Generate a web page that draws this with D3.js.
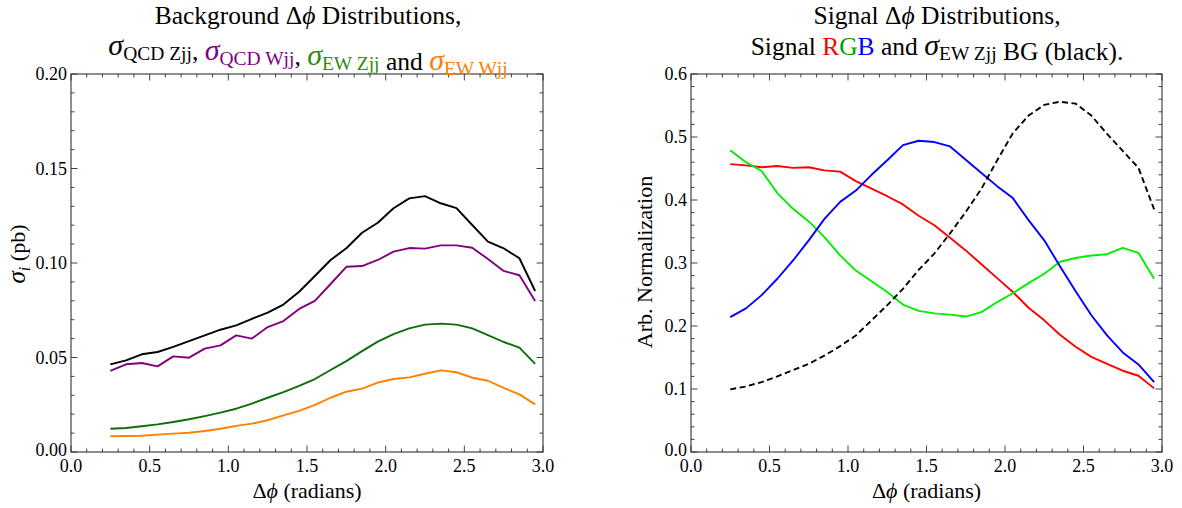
<!DOCTYPE html>
<html>
<head>
<meta charset="utf-8">
<script src="https://cdn.jsdelivr.net/npm/d3@7"></script>
<style>
  html, body { margin: 0; padding: 0; background: #fff; }
  svg text { font-family: "Liberation Serif", "Times New Roman", "DejaVu Serif", serif; fill: #000; }
</style>
</head>
<body>
<svg id="chart" width="1182" height="508"></svg>
<script>
// ---------- DATA ----------
const dphi = [0.25, 0.35, 0.45, 0.55, 0.65, 0.75, 0.85, 0.95, 1.05, 1.15, 1.25, 1.35, 1.45, 1.55,
              1.65, 1.75, 1.85, 1.95, 2.05, 2.15, 2.25, 2.35, 2.45, 2.55, 2.65, 2.75, 2.85, 2.95];

// Left panel: background cross sections (pb)
const qcdZjj = [0.0464, 0.0485, 0.0517, 0.0529, 0.0556, 0.0587, 0.0617, 0.0647, 0.0670, 0.0705, 0.0737, 0.0780, 0.0848, 0.0931,
                0.1016, 0.1078, 0.1160, 0.1213, 0.1290, 0.1342, 0.1354, 0.1316, 0.1290, 0.1201, 0.1113, 0.1078, 0.1025, 0.0852];
const qcdWjj = [0.0429, 0.0464, 0.0471, 0.0453, 0.0506, 0.0499, 0.0547, 0.0564, 0.0617, 0.0600, 0.0661, 0.0693, 0.0757, 0.0800,
                0.0889, 0.0980, 0.0984, 0.1016, 0.1060, 0.1079, 0.1076, 0.1093, 0.1093, 0.1081, 0.1021, 0.0958, 0.0935, 0.0799];
const ewZjj  = [0.0123, 0.0127, 0.0136, 0.0146, 0.0159, 0.0173, 0.0190, 0.0208, 0.0229, 0.0256, 0.0287, 0.0317, 0.0350, 0.0386,
                0.0434, 0.0481, 0.0534, 0.0584, 0.0624, 0.0654, 0.0674, 0.0679, 0.0674, 0.0654, 0.0619, 0.0582, 0.0552, 0.0466];
const ewWjj  = [0.0083, 0.0085, 0.0086, 0.0092, 0.0097, 0.0102, 0.0111, 0.0123, 0.0138, 0.0150, 0.0168, 0.0194, 0.0218, 0.0249,
                0.0287, 0.0319, 0.0335, 0.0367, 0.0386, 0.0395, 0.0414, 0.0432, 0.0422, 0.0393, 0.0377, 0.0339, 0.0305, 0.0252];

// Right panel: normalized signal shapes and EW Zjj background
const sigR = [0.457, 0.455, 0.452, 0.454, 0.451, 0.452, 0.447, 0.445, 0.430, 0.418, 0.406, 0.393, 0.375, 0.360,
              0.340, 0.320, 0.298, 0.276, 0.254, 0.229, 0.209, 0.186, 0.167, 0.151, 0.140, 0.129, 0.121, 0.101];
const sigG = [0.479, 0.460, 0.446, 0.411, 0.386, 0.366, 0.341, 0.312, 0.288, 0.271, 0.254, 0.234, 0.224, 0.220,
              0.218, 0.215, 0.222, 0.238, 0.252, 0.268, 0.283, 0.302, 0.308, 0.312, 0.314, 0.324, 0.316, 0.275];
const sigB = [0.214, 0.228, 0.249, 0.275, 0.304, 0.336, 0.370, 0.397, 0.415, 0.440, 0.463, 0.487, 0.494, 0.492,
              0.485, 0.464, 0.443, 0.422, 0.403, 0.368, 0.336, 0.295, 0.255, 0.217, 0.185, 0.158, 0.139, 0.111];
const bgEW = [0.0995, 0.104, 0.111, 0.120, 0.130, 0.140, 0.153, 0.168, 0.185, 0.209, 0.233, 0.259, 0.289, 0.315,
              0.347, 0.381, 0.418, 0.463, 0.506, 0.534, 0.551, 0.556, 0.553, 0.534, 0.505, 0.478, 0.451, 0.385];

// Tick labels
const xTickLabels = ["0.0", "0.5", "1.0", "1.5", "2.0", "2.5", "3.0"];
const yTickLabelsL = ["0.00", "0.05", "0.10", "0.15", "0.20"];
const yTickLabelsR = ["0.0", "0.1", "0.2", "0.3", "0.4", "0.5", "0.6"];

// ---------- DRAW ----------
const svg = d3.select("#chart");
const TICKF = 18, LABF = 22;

function panel(opts) {
  const g = svg.append("g");
  const x = d3.scaleLinear().domain([0, 3]).range([opts.left, opts.right]);
  const y = d3.scaleLinear().domain([0, opts.ymax]).range([opts.bottom, opts.top]);

  const xMinor = d3.range(0, 31).map(i => i / 10);
  const yMinor = d3.range(0, Math.round(opts.ymax / opts.yminorStep) + 1).map(i => i * opts.yminorStep);
  const xMajor = xTickLabels.map(Number);
  const yMajor = opts.ylabels.map(Number);

  const tc = "#444";
  const isMajor = (v, arr) => arr.some(m => Math.abs(m - v) < 1e-9);

  xMinor.forEach(v => {
    const L = isMajor(v, xMajor) ? 6.5 : 3.5;
    g.append("line").attr("x1", x(v)).attr("x2", x(v)).attr("y1", opts.bottom).attr("y2", opts.bottom - L).attr("stroke", tc).attr("stroke-width", 1);
    g.append("line").attr("x1", x(v)).attr("x2", x(v)).attr("y1", opts.top).attr("y2", opts.top + L).attr("stroke", tc).attr("stroke-width", 1);
  });
  yMinor.forEach(v => {
    const L = isMajor(v, yMajor) ? 6.5 : 3.5;
    g.append("line").attr("x1", opts.left).attr("x2", opts.left + L).attr("y1", y(v)).attr("y2", y(v)).attr("stroke", tc).attr("stroke-width", 1);
    g.append("line").attr("x1", opts.right).attr("x2", opts.right - L).attr("y1", y(v)).attr("y2", y(v)).attr("stroke", tc).attr("stroke-width", 1);
  });

  g.append("rect").attr("x", opts.left).attr("y", opts.top)
    .attr("width", opts.right - opts.left).attr("height", opts.bottom - opts.top)
    .attr("fill", "none").attr("stroke", "#333").attr("stroke-width", 1.1);

  xTickLabels.forEach(t => {
    g.append("text").attr("x", x(+t)).attr("y", opts.bottom + 20)
      .attr("text-anchor", "middle").attr("font-size", TICKF).text(t);
  });
  opts.ylabels.forEach(t => {
    g.append("text").attr("x", opts.left - 4).attr("y", y(+t) + (+t === 0 ? 4 : 6))
      .attr("text-anchor", "end").attr("font-size", TICKF).text(t);
  });

  const xl = g.append("text").attr("x", (opts.left + opts.right) / 2).attr("y", 498)
    .attr("text-anchor", "middle").attr("font-size", LABF);
  xl.append("tspan").text("Δ");
  xl.append("tspan").attr("font-style", "italic").text("ϕ");
  xl.append("tspan").text(" (radians)");

  const line = d3.line().x((d, i) => x(dphi[i])).y(d => y(d));
  opts.series.forEach(s => {
    g.append("path").datum(s.values).attr("d", line)
      .attr("fill", "none").attr("stroke", s.color).attr("stroke-width", 1.9)
      .attr("stroke-linejoin", "round")
      .attr("stroke-dasharray", s.dash || null);
  });
  return g;
}

panel({
  left: 71, right: 543, top: 74, bottom: 452, ymax: 0.2, yminorStep: 0.01,
  ylabels: yTickLabelsL,
  series: [
    { values: qcdZjj, color: "#000000" },
    { values: qcdWjj, color: "#800080" },
    { values: ewZjj, color: "#0a6e0a" },
    { values: ewWjj, color: "#ff8000" }
  ]
});

panel({
  left: 691, right: 1162, top: 74, bottom: 452, ymax: 0.6, yminorStep: 0.02,
  ylabels: yTickLabelsR,
  series: [
    { values: sigR, color: "#ff0000" },
    { values: sigG, color: "#00ee00" },
    { values: sigB, color: "#0000ff" },
    { values: bgEW, color: "#000000", dash: "6,3.5" }
  ]
});

// y axis labels
const yl1 = svg.append("text").attr("transform", "translate(25,254) rotate(-90)")
  .attr("text-anchor", "middle").attr("font-size", LABF);
yl1.append("tspan").attr("font-style", "italic").attr("font-size", 25).text("σ");
yl1.append("tspan").attr("font-style", "italic").attr("font-size", 16).attr("dy", 5).text("i");
yl1.append("tspan").attr("dy", -5).text(" (pb)");

svg.append("text").attr("transform", "translate(652,262) rotate(-90)")
  .attr("text-anchor", "middle").attr("font-size", LABF).text("Arb. Normalization");

// titles
const TF = 25.5, SF = 19.5, SD = 5;
const cL = 308, cR = 937;
svg.append("text").attr("x", cL).attr("y", 23.5).attr("text-anchor", "middle").attr("font-size", TF)
  .call(t => {
    t.append("tspan").text("Background Δ");
    t.append("tspan").attr("font-style", "italic").text("ϕ");
    t.append("tspan").text(" Distributions,");
  });

function sigmaSub(t, color, sub) {
  t.append("tspan").attr("font-style", "italic").attr("fill", color).attr("font-size", 30).text("σ");
  t.append("tspan").attr("fill", color).attr("font-size", SF).attr("dy", SD).text(sub);
  t.append("tspan").attr("font-size", TF).attr("dy", -SD).text("");
}

svg.append("text").attr("x", cL).attr("y", 55).attr("text-anchor", "middle").attr("font-size", TF)
  .call(t => {
    sigmaSub(t, "#000", "QCD Zjj");
    t.append("tspan").text(", ");
    sigmaSub(t, "#800080", "QCD Wjj");
    t.append("tspan").text(", ");
    sigmaSub(t, "#2e8b10", "EW Zjj");
    t.append("tspan").text(" and ");
    sigmaSub(t, "#ff8000", "EW Wjj");
  });

svg.append("text").attr("x", cR).attr("y", 23.5).attr("text-anchor", "middle").attr("font-size", TF)
  .call(t => {
    t.append("tspan").text("Signal Δ");
    t.append("tspan").attr("font-style", "italic").text("ϕ");
    t.append("tspan").text(" Distributions,");
  });

svg.append("text").attr("x", cR).attr("y", 55).attr("text-anchor", "middle").attr("font-size", TF)
  .call(t => {
    t.append("tspan").text("Signal ");
    t.append("tspan").attr("fill", "#ff0000").text("R");
    t.append("tspan").attr("fill", "#00a000").text("G");
    t.append("tspan").attr("fill", "#0000ff").text("B");
    t.append("tspan").text(" and ");
    sigmaSub(t, "#000", "EW Zjj");
    t.append("tspan").text(" BG (black).");
  });
</script>
</body>
</html>
